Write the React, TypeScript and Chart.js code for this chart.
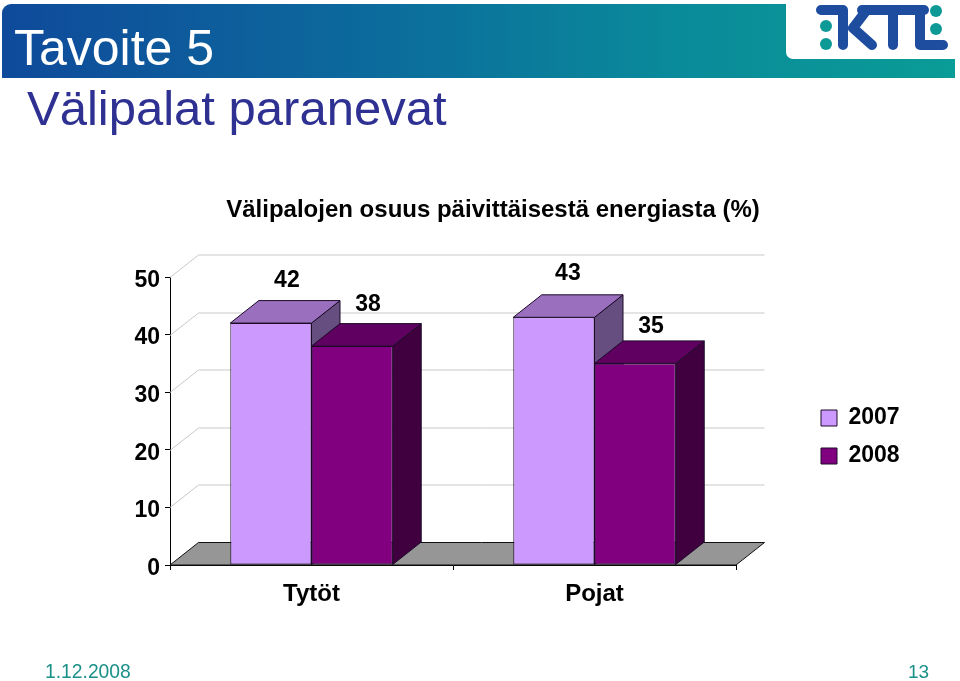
import React, { useEffect, useRef } from "react";
import { Chart, registerables } from "chart.js";

Chart.register(...registerables);

const categories = ["Tytöt", "Pojat"];
const values2007 = [42, 43];
const values2008 = [38, 35];
const seriesNames = ["2007", "2008"];
const yTicks = { min: 0, max: 50, step: 10 };

const chartTitle = "Välipalojen osuus päivittäisestä energiasta (%)";
const headline = "Tavoite 5";
const subHeadline = "Välipalat paranevat";
const footerDate = "1.12.2008";
const footerPage = "13";

const FONT = '"Liberation Sans", Arial, sans-serif';
const DX = 28.5;
const DY = 22.5;
const faces = [
  { front: "#CC99FF", top: "#9A70BE", side: "#664E80" },
  { front: "#800080", top: "#600060", side: "#400040" },
];
const EDGE = "#1c0a28";
// hand placement of the value labels, one [dx, dy] per bar, per series
const labelNudge = [
  [[0, 2], [-2, 0]],
  [[0, 3], [0, 7]],
];

function poly(ctx: CanvasRenderingContext2D, pts: number[][], fill: string, stroke?: string) {
  ctx.beginPath();
  pts.forEach(([x, y], i) => (i ? ctx.lineTo(x, y) : ctx.moveTo(x, y)));
  ctx.closePath();
  ctx.fillStyle = fill;
  ctx.fill();
  if (stroke) {
    ctx.strokeStyle = stroke;
    ctx.lineWidth = 1;
    ctx.stroke();
  }
}

const placeBoxes = {
  id: "placeBoxes",
  afterLayout(chart: any) {
    const t = chart.titleBlock;
    t.left = 226;
    t.right = 760;
    t.top = 196.4;
    const l = chart.legend;
    l.left = 806;
    l.right = 950;
    l.top = 391.5;
    l.bottom = 600;
  },
};

const depth3d = {
  id: "depth3d",
  beforeDatasetsDraw(chart: any) {
    const { ctx, chartArea: a, scales } = chart;
    const y0 = scales.y.getPixelForValue(0);
    ctx.save();
    ctx.strokeStyle = "#c9c9c9";
    ctx.lineWidth = 1;
    for (const t of scales.y.ticks) {
      if (t.value === 0) continue;
      const y = Math.round(scales.y.getPixelForValue(t.value)) + 0.5;
      ctx.beginPath();
      ctx.moveTo(a.left, y);
      ctx.lineTo(a.left + DX, y - DY);
      ctx.lineTo(a.right + DX, y - DY);
      ctx.stroke();
    }
    poly(
      ctx,
      [
        [a.left, y0],
        [a.left + DX, y0 - DY],
        [a.right + DX, y0 - DY],
        [a.right, y0],
      ],
      "#969696",
      "#111111"
    );
    chart.data.datasets.forEach((_: any, di: number) => {
      const c = faces[di];
      chart.getDatasetMeta(di).data.forEach((el: any) => {
        const x0 = el.x - el.width / 2;
        const x1 = el.x + el.width / 2;
        poly(
          ctx,
          [
            [x1, el.base],
            [x1 + DX, el.base - DY],
            [x1 + DX, el.y - DY],
            [x1, el.y],
          ],
          c.side,
          EDGE
        );
        poly(
          ctx,
          [
            [x0, el.y],
            [x0 + DX, el.y - DY],
            [x1 + DX, el.y - DY],
            [x1, el.y],
          ],
          c.top,
          EDGE
        );
      });
    });
    ctx.restore();
  },
  afterDatasetsDraw(chart: any) {
    const { ctx } = chart;
    ctx.save();
    ctx.font = `bold 23px ${FONT}`;
    ctx.fillStyle = "#000";
    ctx.textAlign = "center";
    ctx.textBaseline = "middle";
    chart.data.datasets.forEach((ds: any, di: number) => {
      chart.getDatasetMeta(di).data.forEach((el: any, i: number) => {
        const [nx, ny] = labelNudge[di][i];
        ctx.fillText(String(ds.data[i]), el.x + 16 + nx, el.y - DY - 21.5 + ny);
      });
    });
    ctx.restore();
  },
};

export default function App() {
  const ref = useRef<HTMLCanvasElement>(null);

  useEffect(() => {
    document.body.style.margin = "0";
    const tickFont = { family: FONT, size: 23, weight: "bold" as const };
    const chart = new Chart(ref.current!, {
      type: "bar",
      data: {
        labels: categories,
        datasets: [
          {
            label: seriesNames[0],
            data: values2007,
            backgroundColor: faces[0].front,
            borderColor: EDGE,
            borderWidth: 1,
            borderSkipped: false,
          },
          {
            label: seriesNames[1],
            data: values2008,
            backgroundColor: faces[1].front,
            borderColor: EDGE,
            borderWidth: 1,
            borderSkipped: false,
          },
        ],
      },
      options: {
        responsive: false,
        animation: false,
        events: [],
        layout: { padding: { left: 0, right: 224, top: 248.2, bottom: 56 } },
        datasets: { bar: { barPercentage: 1, categoryPercentage: 0.574 } },
        plugins: {
          tooltip: { enabled: false },
          title: {
            display: true,
            text: chartTitle,
            color: "#000",
            font: { family: FONT, size: 24, weight: "bold" },
            padding: 0,
          },
          legend: {
            display: true,
            position: "chartArea" as any,
            align: "start",
            labels: {
              color: "#000",
              font: tickFont,
              boxWidth: 16,
              boxHeight: 16,
              padding: 15,
            },
          },
        },
        scales: {
          x: {
            grid: { display: true, drawOnChartArea: false, drawTicks: true, tickLength: 5, color: "#000" },
            border: { display: true, color: "#000" },
            ticks: {
              color: "#000",
              font: { family: FONT, size: 24, weight: "bold" },
              padding: 10,
              maxRotation: 0,
            },
            afterFit(s: any) {
              s.height = 60;
            },
          },
          y: {
            min: yTicks.min,
            max: yTicks.max,
            grid: { display: true, drawOnChartArea: false, drawTicks: true, tickLength: 5, color: "#000" },
            border: { display: true, color: "#000" },
            ticks: { color: "#000", font: tickFont, padding: 5, stepSize: yTicks.step, labelOffset: 3.5 },
            afterFit(s: any) {
              s.width = 170;
            },
          },
        },
      },
      plugins: [placeBoxes, depth3d],
    });
    return () => chart.destroy();
  }, []);

  const abs = (o: React.CSSProperties): React.CSSProperties => ({ position: "absolute", ...o });
  const textStyle = (o: React.CSSProperties): React.CSSProperties =>
    abs({ fontFamily: FONT, whiteSpace: "nowrap", lineHeight: 1, ...o });

  return (
    <div style={abs({ left: 0, top: 0, width: 960, height: 681, overflow: "hidden", background: "#fff" })}>
      <div
        style={abs({
          left: 2,
          top: 4,
          width: 953,
          height: 74,
          borderTopLeftRadius: 9,
          background: "linear-gradient(90deg,#0f4a9b 0%,#0c6a9c 38%,#0a8a9a 70%,#0a9c96 100%)",
        })}
      />
      <div
        style={abs({
          left: 786,
          top: 0,
          width: 174,
          height: 59,
          background: "#fff",
          borderBottomLeftRadius: 7,
        })}
      />
      <svg width={180} height={60} viewBox="780 0 180 60" style={abs({ left: 780, top: 0 })}>
        <g fill="none" stroke="#1e4da0" strokeWidth={10} strokeLinecap="round" strokeLinejoin="round">
          <path d="M821 10H843V45" />
          <path d="M866 11L853 28L872 45" />
          <path d="M862 10H924" />
          <path d="M893 10V45" />
          <path d="M920 10V45H943" />
        </g>
        <g fill="#0d9a96">
          <circle cx={826} cy={26} r={6} />
          <circle cx={826} cy={44} r={6} />
          <circle cx={936} cy={11} r={6} />
          <circle cx={936} cy={29} r={6} />
        </g>
      </svg>
      <div style={textStyle({ left: 14, top: 23, fontSize: 50, color: "#fff" })}>{headline}</div>
      <div style={textStyle({ left: 27, top: 84, fontSize: 49, color: "#2e3192" })}>{subHeadline}</div>
      <canvas ref={ref} width={960} height={681} style={abs({ left: 0, top: 0 })} />
      <div style={textStyle({ left: 45, top: 662, fontSize: 19.3, color: "#1a9088" })}>{footerDate}</div>
      <div style={textStyle({ left: 908, top: 662, fontSize: 19, color: "#1a9088" })}>{footerPage}</div>
    </div>
  );
}
